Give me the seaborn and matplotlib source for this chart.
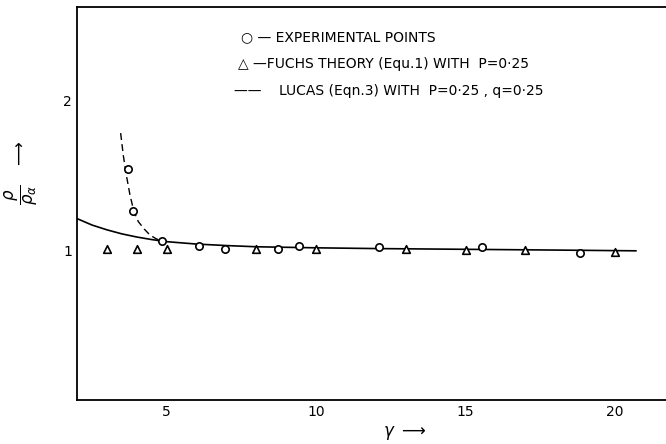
import numpy as np
import matplotlib
matplotlib.use("Agg")
import matplotlib.pyplot as plt
import seaborn as sns

sns.set_style("white")
plt.rcParams['font.family'] = ['DejaVu Sans']
plt.rcParams['text.color'] = 'black'
plt.rcParams['axes.labelcolor'] = 'black'

# experimental points (open circles)
exp_gamma = [3.70, 3.88, 4.83, 6.08, 6.95, 8.71, 9.41, 12.1, 15.53, 18.82]
exp_ratio = [1.54, 1.26, 1.06, 1.03, 1.01, 1.01, 1.03, 1.02, 1.02, 0.98]

# Fuchs theory, P = 0.25 (triangles)
fuchs_gamma = [3, 4, 5, 8, 10, 13, 15, 17, 20]
fuchs_ratio = [1.01, 1.01, 1.01, 1.01, 1.01, 1.01, 1.0, 1.0, 0.99]

# Lucas, P = 0.25, q = 0.25 (solid curve)
lucas_gamma = [2.0, 2.5, 3.0, 3.5, 4.0, 4.5, 5.0, 6.0, 7.0, 8.0, 10.0, 12.0, 15.0, 18.0, 20.7]
lucas_ratio = [1.21, 1.167, 1.135, 1.108, 1.087, 1.07, 1.056, 1.04, 1.03, 1.022, 1.015, 1.01, 1.005, 1.0, 0.995]

# dashed trend through the experimental points
trend_gamma = [3.46, 3.55, 3.65, 3.77, 3.90, 4.05, 4.25, 4.44, 4.65, 4.83]
trend_ratio = [1.78, 1.63, 1.50, 1.37, 1.26, 1.19, 1.14, 1.10, 1.075, 1.06]

x_ticks = [5, 10, 15, 20]
y_ticks = [1, 2]

fig = plt.figure(figsize=(6.66, 4.44), dpi=100)
ax = fig.add_axes([0.1156, 0.099, 0.8844, 0.885])

sns.lineplot(x=lucas_gamma, y=lucas_ratio, ax=ax, color='black', linewidth=1.2,
             sort=False, estimator=None)
sns.lineplot(x=trend_gamma, y=trend_ratio, ax=ax, color='black', linewidth=1.0,
             linestyle=(0, (5, 3)), sort=False, estimator=None)
sns.scatterplot(x=fuchs_gamma, y=fuchs_ratio, ax=ax, marker='^', s=30,
                facecolor='white', edgecolor='black', linewidth=1.2, zorder=3)
sns.scatterplot(x=exp_gamma, y=exp_ratio, ax=ax, marker='o', s=28,
                facecolor='white', edgecolor='black', linewidth=1.2, zorder=4)

ax.set_xlim(2, 21.7)
ax.set_ylim(0, 2.62)
ax.set_xticks(x_ticks)
ax.set_yticks(y_ticks)
ax.tick_params(direction='in', length=8, width=1.2, labelsize=10, colors='black')
ax.tick_params(axis='y', length=12)
for side in ['left', 'bottom', 'top']:
    ax.spines[side].set_color('black')
    ax.spines[side].set_linewidth(1.3)
ax.spines['right'].set_visible(False)

ax.set_xlabel(r'$\gamma$ $\longrightarrow$', fontsize=12)
ax.xaxis.set_label_coords(0.557, -0.06)
ax.set_ylabel(r'$\dfrac{\rho}{\rho_\alpha}$   $\longrightarrow$', fontsize=12, rotation=90)
ax.yaxis.set_label_coords(-0.062, 0.58)

fs = 10
fig.text(0.362, 0.917, '○ — EXPERIMENTAL POINTS', fontsize=fs, va='center')
fig.text(0.357, 0.856, '△ —FUCHS THEORY (Equ.1) WITH  P=0·25', fontsize=fs, va='center')
fig.text(0.352, 0.795, '——    LUCAS (Eqn.3) WITH  P=0·25 , q=0·25', fontsize=fs, va='center')

fig.savefig('out.png', dpi=100)
